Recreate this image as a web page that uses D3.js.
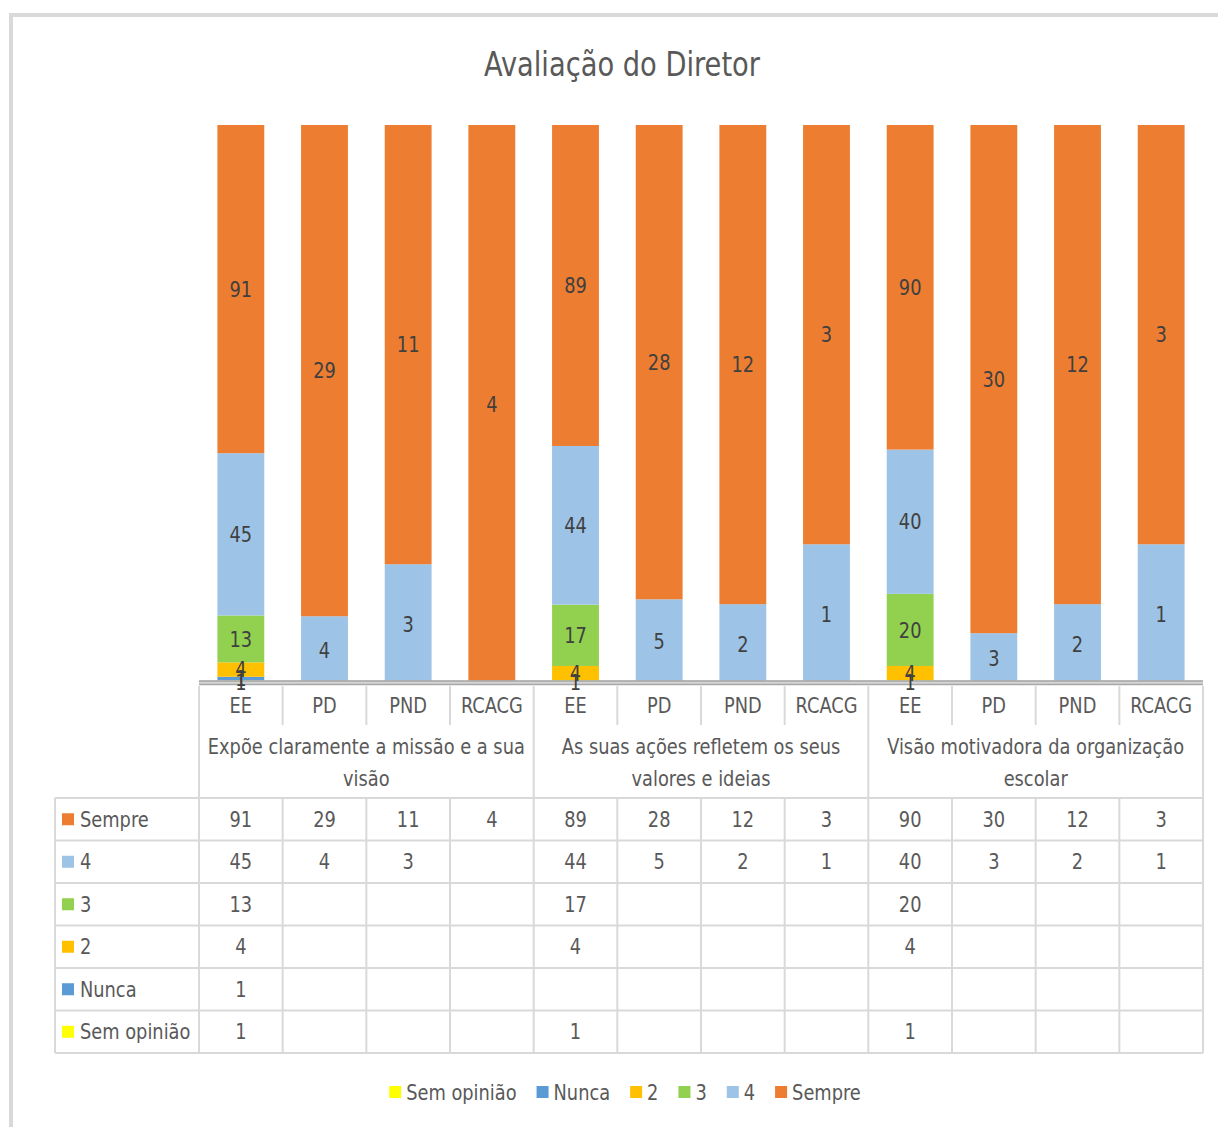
<!DOCTYPE html>
<html><head><meta charset="utf-8">
<script src="https://cdn.jsdelivr.net/npm/d3@7/dist/d3.min.js"></script>
<style>body{margin:0;background:#fff}svg{display:block}</style>
</head><body>
<script>
const groupLines = [["Expõe claramente a missão e a sua","visão"],["As suas ações refletem os seus","valores e ideias"],["Visão motivadora da organização","escolar"]];
const subcats = ["EE","PD","PND","RCACG"];
const seriesNames = ["Sem opinião","Nunca","2","3","4","Sempre"];
const colors = ["#FFFF00","#5B9BD5","#FFC000","#92D050","#9DC3E6","#ED7D31"];
const semOpiniao = [1,null,null,null, 1,null,null,null, 1,null,null,null];
const nunca      = [1,null,null,null, null,null,null,null, null,null,null,null];
const v2         = [4,null,null,null, 4,null,null,null, 4,null,null,null];
const v3         = [13,null,null,null, 17,null,null,null, 20,null,null,null];
const v4         = [45,4,3,null, 44,5,2,1, 40,3,2,1];
const sempre     = [91,29,11,4, 89,28,12,3, 90,30,12,3];
const seriesVals = [semOpiniao,nunca,v2,v3,v4,sempre];

const FONT = "'Liberation Sans Narrow','DejaVu Sans Condensed','Liberation Sans',sans-serif";
const TXT = "#595959";
const SX = 0.9;
const W=1218,H=1127;
const svg = d3.select("body").append("svg").attr("width",W).attr("height",H)
  .style("font-family",FONT);

function txt(parent,x,y,str,size,anchor,fill){
  const t = parent.append("text")
    .attr("transform",`translate(${x},${y}) scale(${SX},1)`)
    .attr("dy","0.35em").attr("text-anchor",anchor||"middle")
    .attr("font-size",size).attr("fill",fill||TXT).text(str);
  return t;
}

// outer frame
svg.append("rect").attr("x",11).attr("y",15).attr("width",W+20).attr("height",H+20)
  .attr("fill","#fff").attr("stroke","#d9d9d9").attr("stroke-width",4);

svg.append("text").attr("transform","translate(622,76) scale(0.92,1)").attr("text-anchor","middle")
  .attr("fill",TXT).attr("font-size",33).text("Avaliação do Diretor");

const n = sempre.length;
const x = d3.scaleBand().domain(d3.range(n)).range([199,1203]).paddingInner(0.44).paddingOuter(0.22);
const xs = d3.scaleBand().domain(d3.range(n)).range([199,1203]);
const y = d3.scaleLinear().domain([0,1]).range([684,125]);

// stacked (100%) data
const rows = d3.range(n).map(i=>{const o={i}; seriesNames.forEach((s,k)=>o[s]=seriesVals[k][i]||0); return o;});
const stack = d3.stack().keys(seriesNames).offset(d3.stackOffsetExpand)(rows);

const gBars = svg.append("g");
stack.forEach((layer,k)=>{
  gBars.selectAll(null).data(layer.filter(d=>d.data[seriesNames[k]]>0)).join("rect")
    .attr("x",d=>x(d.data.i)).attr("width",x.bandwidth())
    .attr("y",d=>y(d[1])).attr("height",d=>y(d[0])-y(d[1]))
    .attr("fill",colors[k]);
});

// axis line (double), drawn over the bar bottoms
svg.append("rect").attr("x",199).attr("y",680.5).attr("width",1004).attr("height",4.5).attr("fill","#d4d4d4");
svg.append("line").attr("x1",199).attr("x2",1203).attr("y1",681).attr("y2",681).attr("stroke","#a6a6a6").attr("stroke-width",1.3);
svg.append("line").attr("x1",199).attr("x2",1203).attr("y1",684.5).attr("y2",684.5).attr("stroke","#a6a6a6").attr("stroke-width",1.3);

// data labels
const gLab = svg.append("g");
stack.forEach((layer,k)=>{
  layer.filter(d=>d.data[seriesNames[k]]>0).forEach(d=>{
    txt(gLab, x(d.data.i)+x.bandwidth()/2, (y(d[0])+y(d[1]))/2, d.data[seriesNames[k]], 22, "middle", "#404040");
  });
});

// table grid
const grid = svg.append("g").attr("stroke","#d9d9d9").attr("stroke-width",2).attr("fill","none");
const rowTop = 798, rowH = 42.5;
d3.range(n+1).forEach(i=>{
  const xx = i<n? xs(i) : 1203;
  const isGroup = i%4===0;
  grid.append("line").attr("x1",xx).attr("x2",xx).attr("y1",686).attr("y2",isGroup?rowTop:725);
  grid.append("line").attr("x1",xx).attr("x2",xx).attr("y1",rowTop).attr("y2",rowTop+6*rowH);
});
grid.append("line").attr("x1",55).attr("x2",55).attr("y1",rowTop).attr("y2",rowTop+6*rowH);
d3.range(7).forEach(r=>{
  grid.append("line").attr("x1",55).attr("x2",1203).attr("y1",rowTop+r*rowH).attr("y2",rowTop+r*rowH);
});

// subcategory labels
d3.range(n).forEach(i=>{
  txt(svg, xs(i)+xs.bandwidth()/2, 705, subcats[i%4], 22);
});
// group labels
groupLines.forEach((lines,g)=>{
  const cx = (xs(g*4)+xs(g*4+3)+xs.bandwidth())/2;
  lines.forEach((t,j)=> txt(svg, cx, 746+j*32, t, 22));
});

// table rows (top-to-bottom: Sempre ... Sem opinião)
const order = [5,4,3,2,1,0];
order.forEach((k,r)=>{
  const cy = rowTop + r*rowH + rowH/2;
  svg.append("rect").attr("x",62).attr("y",cy-6).attr("width",12).attr("height",12).attr("fill",colors[k]);
  txt(svg, 80, cy, seriesNames[k], 22, "start");
  seriesVals[k].forEach((v,i)=>{
    if(v==null) return;
    txt(svg, xs(i)+xs.bandwidth()/2, cy, v, 22);
  });
});

// legend
const leg = svg.append("g");
let lx = 0;
const GAP = 20;
seriesNames.forEach((s,k)=>{
  const g = leg.append("g").attr("transform",`translate(${lx},0)`);
  g.append("rect").attr("x",0).attr("y",-6).attr("width",12).attr("height",12).attr("fill",colors[k]);
  const t = txt(g, 17, 0, s, 22, "start");
  lx += 17 + t.node().getComputedTextLength()*SX + GAP;
});
const totalW = lx - GAP;
leg.attr("transform",`translate(${625-totalW/2},1092)`);
</script>
</body></html>
